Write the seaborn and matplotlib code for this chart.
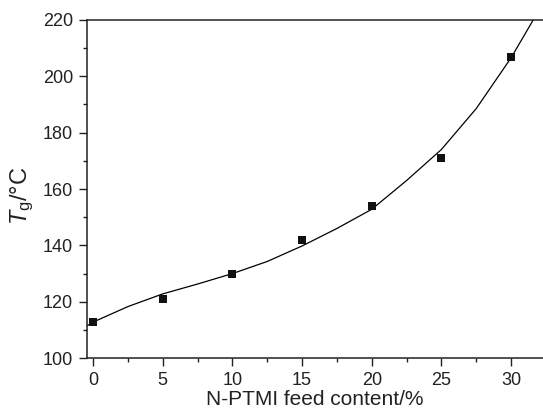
import matplotlib
matplotlib.use("Agg")
import matplotlib.pyplot as plt
import seaborn as sns
import pandas as pd
from matplotlib.ticker import MultipleLocator

# measured points
feed = [0, 5, 10, 15, 20, 25, 30]
tg = [113, 121, 130, 142, 154, 171, 207]

# fitted curve
curve_x = [-0.5, 0, 2.5, 5, 7.5, 10, 12.5, 15, 17.5, 20, 22.5, 25, 27.5, 30, 31.6]
curve_y = [111.3, 112.8, 118.3, 122.8, 126.3, 130, 134.3, 139.8, 146, 152.8, 163, 174, 188.5, 206.5, 220]

sns.set_theme(style="ticks")
plt.rcParams['font.family'] = ['Liberation Sans', 'DejaVu Sans']
plt.rcParams['mathtext.fontset'] = 'custom'
plt.rcParams['mathtext.rm'] = 'Liberation Sans'
plt.rcParams['mathtext.it'] = 'Liberation Sans:italic'

fig = plt.figure(figsize=(5.43, 4.15), dpi=100)
ax = fig.add_axes([0.160, 0.137, 0.840, 0.815])

pts = pd.DataFrame({"feed": feed, "tg": tg})
cur = pd.DataFrame({"x": curve_x, "y": curve_y})

sns.lineplot(data=cur, x="x", y="y", ax=ax, color="black", lw=0.9, sort=False)
sns.scatterplot(data=pts, x="feed", y="tg", ax=ax, marker="s", s=40, color="#111111",
                edgecolor="#111111", linewidth=0, zorder=3)

ax.set_xlim(-0.45, 32.3)
ax.set_ylim(100, 220)
ax.xaxis.set_major_locator(MultipleLocator(5))
ax.xaxis.set_minor_locator(MultipleLocator(2.5))
ax.yaxis.set_major_locator(MultipleLocator(20))
ax.yaxis.set_minor_locator(MultipleLocator(10))
ax.tick_params(which="major", direction="out", length=6, width=1, colors="#222222",
               labelsize=13, labelcolor="#222222", pad=4)
ax.tick_params(which="minor", direction="out", length=3, width=1, colors="#222222")
ax.spines["right"].set_visible(False)
for s in ["left", "top", "bottom"]:
    ax.spines[s].set_color("#222222")
    ax.spines[s].set_linewidth(1.1)

ax.set_xlabel("N-PTMI feed content/%", fontsize=15, color="#222222", labelpad=1)
ax.set_ylabel(r"$T_\mathrm{g}$/°C", fontsize=17, color="#222222")
ax.yaxis.set_label_coords(-0.112, 0.48)

fig.savefig("out.png", dpi=100)
